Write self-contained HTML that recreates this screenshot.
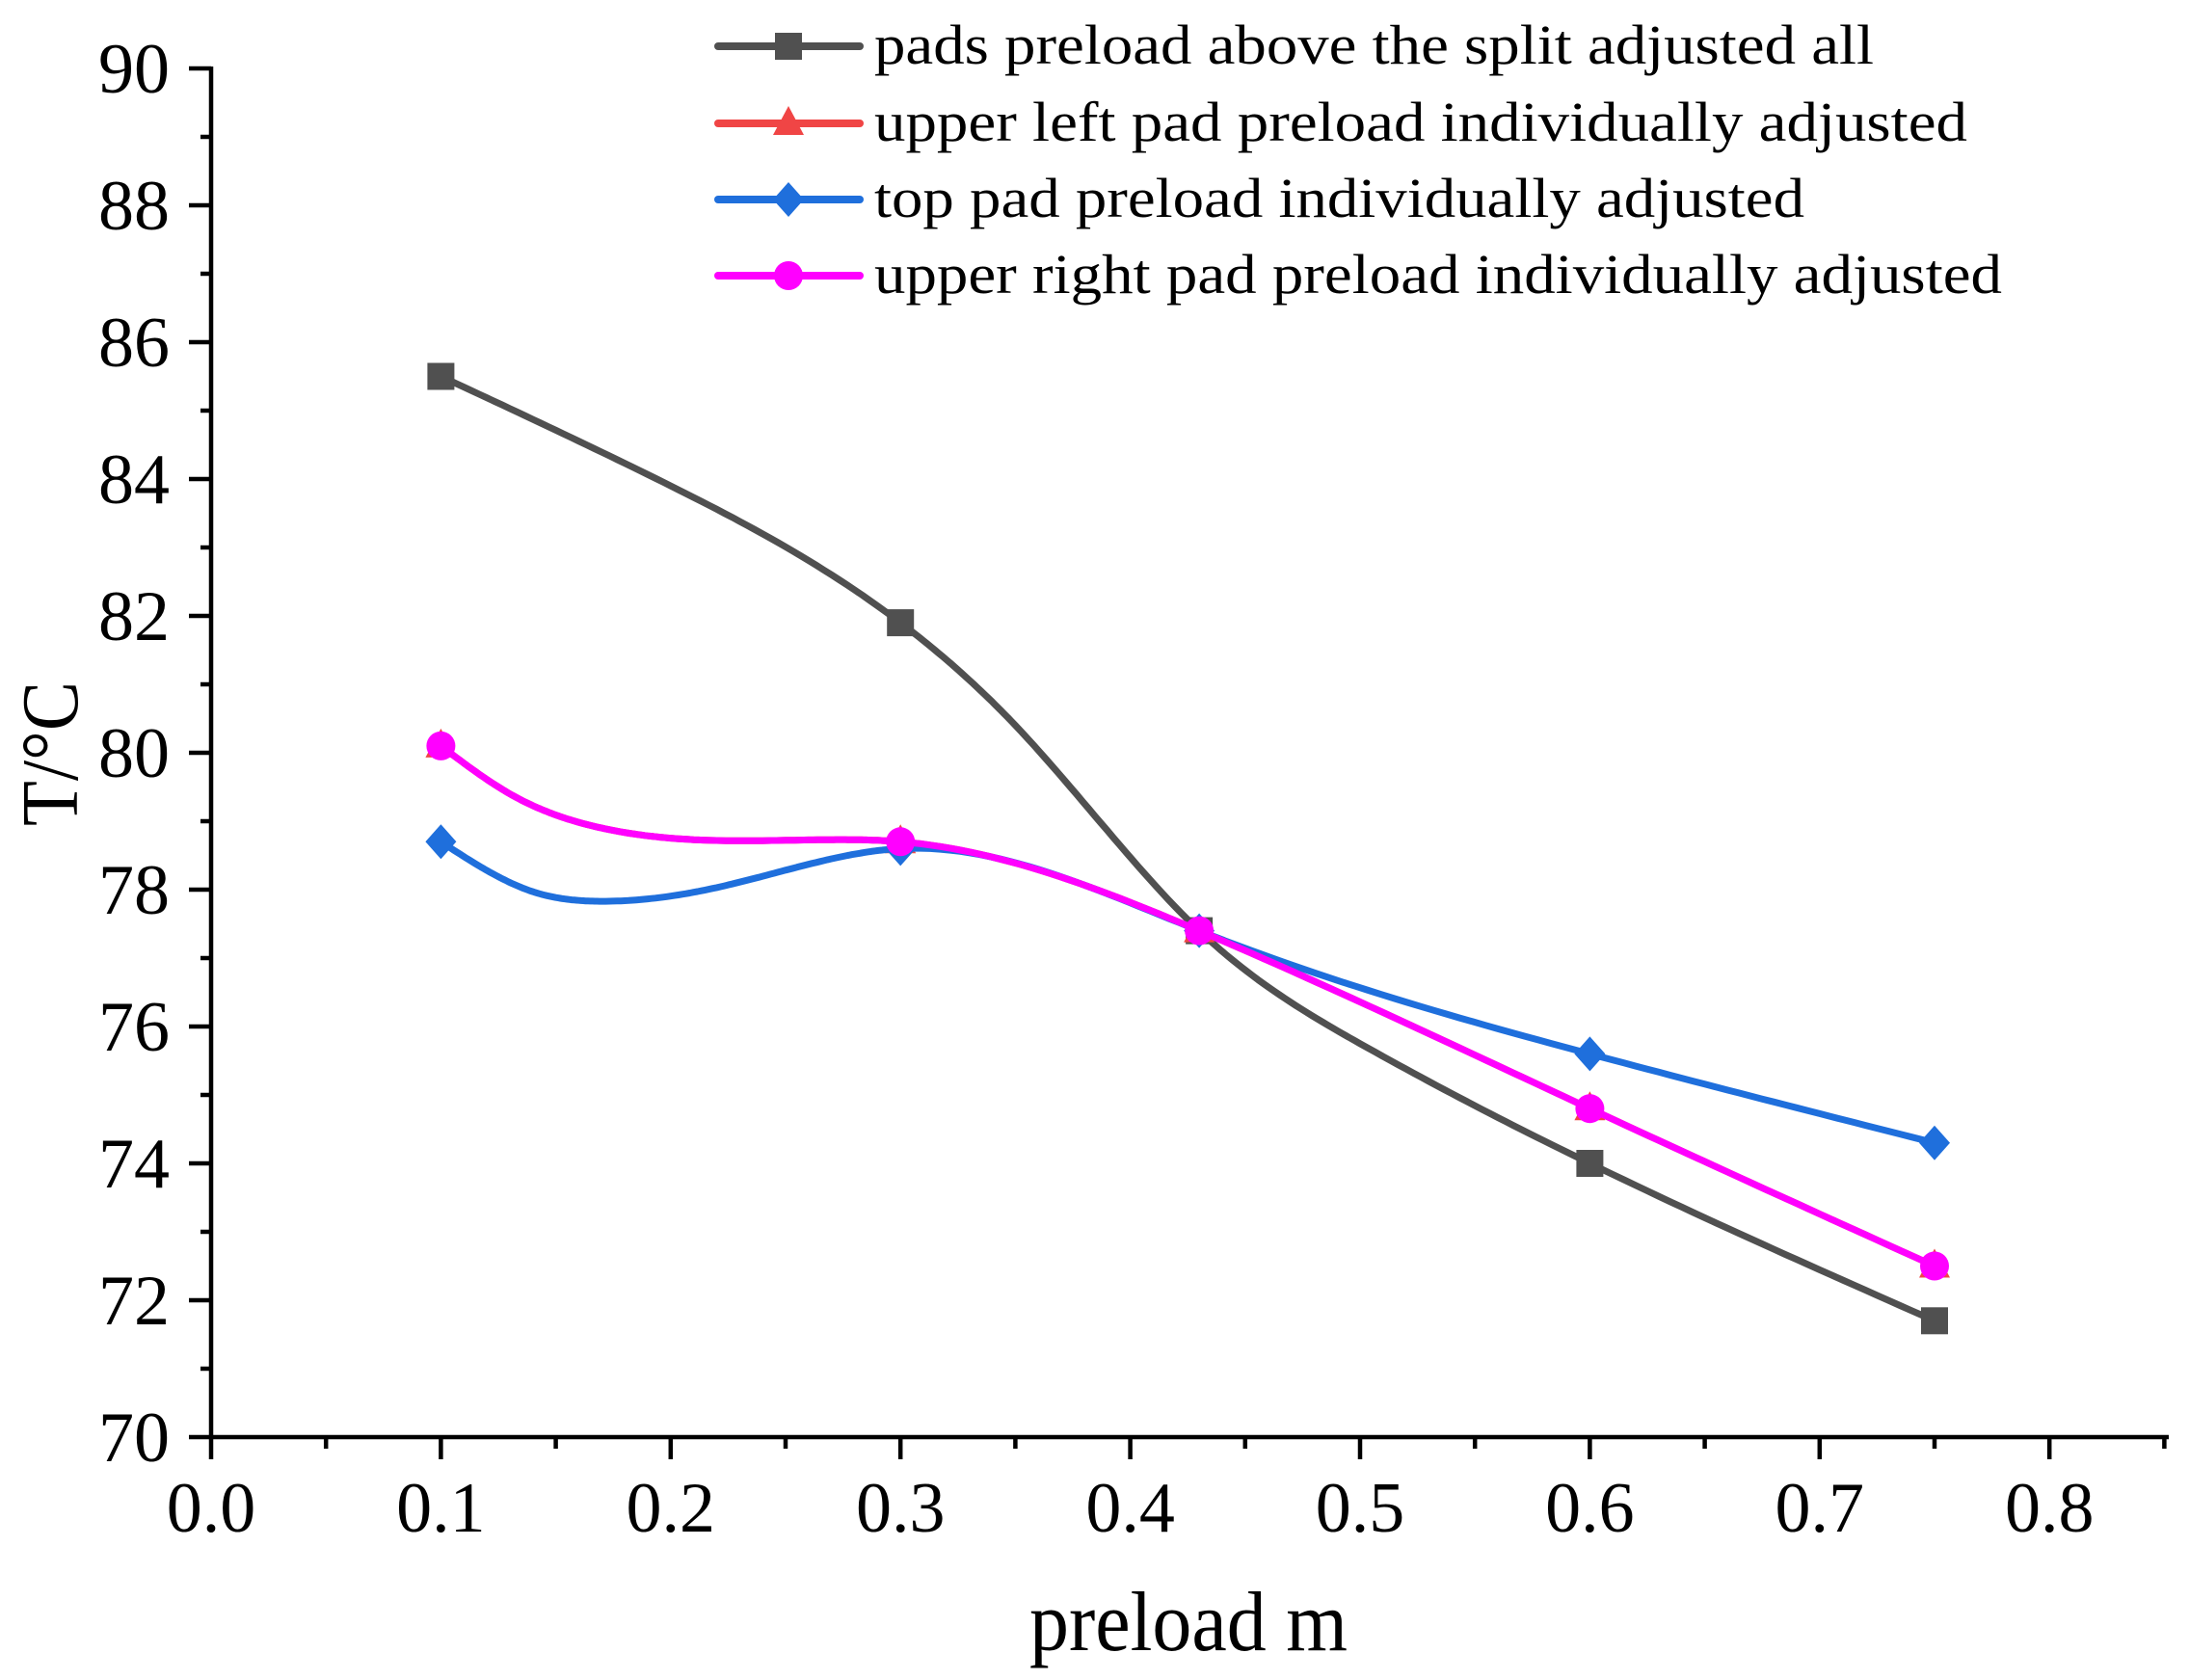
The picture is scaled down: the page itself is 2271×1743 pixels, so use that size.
<!DOCTYPE html>
<html><head><meta charset="utf-8"><style>
html,body{margin:0;padding:0;background:#fff;}
svg{display:block;font-family:"Liberation Serif",serif;}
</style></head><body>
<svg id="s" width="2271" height="1743" viewBox="0 0 2271 1743" xmlns="http://www.w3.org/2000/svg">
<g id="axes" stroke="#000" stroke-width="4.5" fill="none"></g>
<g id="lbl" font-size="74" fill="#000"></g>
<text x="1233" y="1712" font-size="88" text-anchor="middle" textLength="330" lengthAdjust="spacingAndGlyphs">preload m</text>
<text transform="translate(80,782) rotate(-90)" font-size="84" text-anchor="middle" textLength="150" lengthAdjust="spacingAndGlyphs">T/°C</text>
<g id="series"></g>
<g id="legend" font-size="58"></g>
</svg>
<script>
const NS="http://www.w3.org/2000/svg";
const X=v=>219+v*2384, Y=t=>1491-(t-70)*71;
function el(p,tag,a,txt){const e=document.createElementNS(NS,tag);for(const k in a)e.setAttribute(k,a[k]);if(txt!==undefined)e.textContent=txt;p.appendChild(e);return e;}
const ax=document.getElementById('axes'),lb=document.getElementById('lbl');
el(ax,'line',{x1:219,y1:69,x2:219,y2:1493});
el(ax,'line',{x1:217,y1:1491,x2:2250,y2:1491});
for(let t=70;t<=90;t+=1){const y=Y(t);const maj=t%2==0;el(ax,'line',{x1:maj?196:208,y1:y,x2:219,y2:y});
 if(maj) el(lb,'text',{x:176,y:y+25,'text-anchor':'end'},String(t));}
for(let i=0;i<=17;i++){const v=i*0.05,x=X(v);if(x>2252)break;const maj=i%2==0;el(ax,'line',{x1:x,y1:1491,x2:x,y2:maj?1514:1503});
 if(maj) el(lb,'text',{x:x,y:1589,'text-anchor':'middle'},(v).toFixed(1));}
function spline(pts){const xs=pts.map(p=>p[0]),ys=pts.map(p=>p[1]);const n=xs.length,h=[],a=[],l=[1],mu=[0],z=[0],b=[],d=[];
 for(let i=0;i<n-1;i++)h[i]=xs[i+1]-xs[i];
 for(let i=1;i<n-1;i++)a[i]=3/h[i]*(ys[i+1]-ys[i])-3/h[i-1]*(ys[i]-ys[i-1]);
 for(let i=1;i<n-1;i++){l[i]=2*(xs[i+1]-xs[i-1])-h[i-1]*mu[i-1];mu[i]=h[i]/l[i];z[i]=(a[i]-h[i-1]*z[i-1])/l[i];}
 const C=new Array(n).fill(0);for(let j=n-2;j>=1;j--)C[j]=z[j]-mu[j]*C[j+1];
 for(let i=0;i<n-1;i++){b[i]=(ys[i+1]-ys[i])/h[i]-h[i]*(C[i+1]+2*C[i])/3;d[i]=(C[i+1]-C[i])/(3*h[i]);}
 let p='';for(let i=0;i<n-1;i++){for(let k=0;k<=30;k++){const dx=h[i]*k/30,v=ys[i]+b[i]*dx+C[i]*dx*dx+d[i]*dx*dx*dx;p+=(p?'L':'M')+X(xs[i]+dx).toFixed(1)+' '+Y(v).toFixed(1);}}
 return p;}
const xs=[0.1,0.3,0.43,0.6,0.75];
const S=[
 {c:'#505050',y:[85.5,81.9,77.4,74.0,71.7],m:'sq',name:'pads preload above the split adjusted all',w:1037,
  k:[[0.1,85.5],[0.2,83.9],[0.3,81.9],[0.35,80.4],[0.43,77.4],[0.5,75.75],[0.6,74.0],[0.75,71.7]]},
 {c:'#f04545',y:[80.1,78.7,77.4,74.8,72.5],m:'tri',name:'upper left pad preload individually adjusted',w:1134,
  k:[[0.1,80.1],[0.13,79.4],[0.17,78.9],[0.21,78.73],[0.27,78.73],[0.3,78.7],[0.43,77.4],[0.6,74.8],[0.75,72.5]]},
 {c:'#1f6fdc',y:[78.7,78.6,77.4,75.6,74.3],m:'dia',name:'top pad preload individually adjusted',w:965,
  k:[[0.1,78.7],[0.14,77.97],[0.17,77.83],[0.22,78.03],[0.27,78.45],[0.3,78.6],[0.43,77.4],[0.6,75.6],[0.75,74.3]]},
 {c:'#ff00ff',y:[80.1,78.7,77.4,74.8,72.5],m:'cir',name:'upper right pad preload individually adjusted',w:1170,
  k:[[0.1,80.1],[0.13,79.4],[0.17,78.9],[0.21,78.73],[0.27,78.73],[0.3,78.7],[0.43,77.4],[0.6,74.8],[0.75,72.5]]}];
const sg=document.getElementById('series'),lg=document.getElementById('legend');
function marker(p,m,x,y,c){if(m=='sq')el(p,'rect',{x:x-14,y:y-14,width:28,height:28,fill:c});
 else if(m=='tri')el(p,'polygon',{points:`${x},${y-18} ${x+16},${y+12} ${x-16},${y+12}`,fill:c});
 else if(m=='dia')el(p,'polygon',{points:`${x},${y-18} ${x+16},${y} ${x},${y+18} ${x-16},${y}`,fill:c});
 else el(p,'circle',{cx:x,cy:y,r:15,fill:c});}
S.forEach((s,i)=>{el(sg,'path',{d:spline(s.k),stroke:s.c,'stroke-width':7,fill:'none','stroke-linejoin':'round'});
 xs.forEach((x,j)=>marker(sg,s.m,X(x),Y(s.y[j]),s.c));
 const ly=[48,128,207,286][i];
 el(lg,'line',{x1:745,y1:ly,x2:892,y2:ly,stroke:s.c,'stroke-width':8,'stroke-linecap':'round'});
 marker(lg,s.m,818,ly,s.c);
 el(lg,'text',{x:907,y:ly+18,textLength:s.w,lengthAdjust:'spacingAndGlyphs'},s.name);});
</script>
</body></html>
